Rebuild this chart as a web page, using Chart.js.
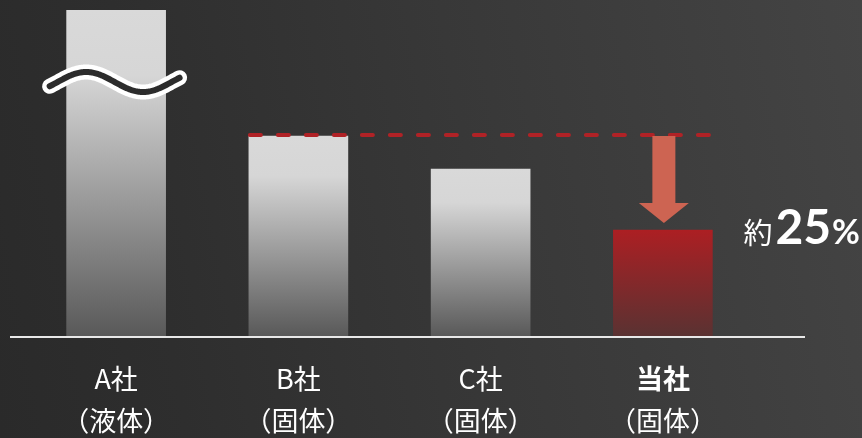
<!DOCTYPE html>
<html lang="ja">
<head>
<meta charset="utf-8">
<title>比較</title>
<script src="https://cdn.jsdelivr.net/npm/chart.js@4.4.1/dist/chart.umd.min.js"></script>
<style>
    html, body {
        margin: 0;
        padding: 0;
        width: 862px;
        height: 438px;
        overflow: hidden;
        background: linear-gradient(80deg, #2a2a2a 0%, #2e2e2e 20%, #383838 55%, #444444 100%);
    }
    canvas { display: block; }
</style>
</head>
<body>
<canvas id="compareChart" width="862" height="438"></canvas>
<script>
const companies = ['A社', 'B社', 'C社', '当社'];
const forms = ['（液体）', '（固体）', '（固体）', '（固体）'];
const values = [163, 100, 83.5, 53];
const axisMax = 163;
const breakValue = 127;      // where the A社 bar is cut
const referenceIndex = 1;    // dashed level comes from B社
const ownIndex = 3;          // 当社
const reductionText = ['約', '25', '%'];

const JP_FONT = '"Noto Sans CJK JP", "Noto Sans", sans-serif';
const NUM_FONT = 'Lato, "Open Sans", sans-serif';

function barGradient(context) {
    const chart = context.chart;
    if (!chart.chartArea) return '#cccccc';
    const y = chart.scales.y;
    const top = y.getPixelForValue(Math.min(context.raw, y.max));
    const bottom = y.getPixelForValue(0);
    const g = chart.ctx.createLinearGradient(0, top, 0, bottom);
    if (context.dataIndex === ownIndex) {
        g.addColorStop(0, '#ac1f23');
        g.addColorStop(1, '#5a3232');
    } else {
        g.addColorStop(0, '#d9d9d9');
        g.addColorStop(0.2, '#d6d6d6');
        g.addColorStop(1, '#595959');
    }
    return g;
}

// dashed level, arrow, axis break, baseline and the two-line labels
const decorations = {
    id: 'decorations',
    afterDatasetsDraw(chart) {
        const ctx = chart.ctx;
        const xScale = chart.scales.x;
        const yScale = chart.scales.y;
        const bars = chart.getDatasetMeta(0).data;
        const base = yScale.getPixelForValue(0);

        const refBar = bars[referenceIndex];
        const ownBar = bars[ownIndex];
        const levelY = yScale.getPixelForValue(values[referenceIndex]) - 1;

        ctx.save();

        // dashed reference level
        ctx.strokeStyle = '#b02226';
        ctx.lineWidth = 4;
        ctx.lineCap = 'round';
        ctx.setLineDash([11, 17]);
        ctx.beginPath();
        ctx.moveTo(refBar.x - refBar.width / 2 + 1, levelY);
        ctx.lineTo(ownBar.x + ownBar.width / 2, levelY);
        ctx.stroke();
        ctx.setLineDash([]);

        // down arrow to 当社
        const ax = ownBar.x + 1;
        const arrowTop = levelY + 1;
        const tip = ownBar.y - 7;
        const headH = 20, headW = 25, shaftW = 11.5;
        ctx.fillStyle = '#cd6452';
        ctx.beginPath();
        ctx.moveTo(ax - shaftW, arrowTop);
        ctx.lineTo(ax + shaftW, arrowTop);
        ctx.lineTo(ax + shaftW, tip - headH);
        ctx.lineTo(ax + headW, tip - headH);
        ctx.lineTo(ax, tip);
        ctx.lineTo(ax - headW, tip - headH);
        ctx.lineTo(ax - shaftW, tip - headH);
        ctx.closePath();
        ctx.fill();

        // wavy break across the first bar
        const aBar = bars[0];
        const left = aBar.x - aBar.width / 2 - 17;
        const right = aBar.x + aBar.width / 2 + 14;
        const mid = yScale.getPixelForValue(breakValue);
        const peakX = aBar.x - 30;
        const wave = () => {
            ctx.beginPath();
            for (let x = left; x <= right; x += 1) {
                const y = mid - 10 * Math.cos(2 * Math.PI * (x - peakX) / 114);
                if (x === left) ctx.moveTo(x, y); else ctx.lineTo(x, y);
            }
        };
        ctx.lineCap = 'round';
        ctx.lineJoin = 'round';
        wave();
        ctx.strokeStyle = '#ffffff';
        ctx.lineWidth = 15;
        ctx.stroke();
        wave();
        ctx.strokeStyle = '#2c2c2c';
        ctx.lineWidth = 6;
        ctx.stroke();

        // baseline
        ctx.lineCap = 'butt';
        ctx.strokeStyle = '#e8e8e8';
        ctx.lineWidth = 2;
        ctx.beginPath();
        ctx.moveTo(10, base + 1);
        ctx.lineTo(805, base + 1);
        ctx.stroke();

        // category labels
        ctx.fillStyle = '#ffffff';
        ctx.textAlign = 'center';
        ctx.textBaseline = 'middle';
        companies.forEach((name, i) => {
            const x = xScale.getPixelForValue(i);
            ctx.font = (i === ownIndex ? 'bold ' : '') + '27px ' + JP_FONT;
            ctx.fillText(name, x, base + 43);
            ctx.font = '27px ' + JP_FONT;
            ctx.fillText(forms[i], x, base + 85);
        });

        // 約25%
        ctx.textAlign = 'left';
        ctx.textBaseline = 'alphabetic';
        let tx = ownBar.x + ownBar.width / 2 + 31;
        const ty = ownBar.y + 14;
        const parts = [
            ['29px ' + JP_FONT, reductionText[0]],
            ['bold 48px ' + NUM_FONT, reductionText[1]],
            ['bold 34px ' + NUM_FONT, reductionText[2]]
        ];
        parts.forEach(([font, text], i) => {
            ctx.font = font;
            ctx.fillText(text, tx, ty);
            tx += ctx.measureText(text).width + (i === 0 ? 3 : 1);
        });

        ctx.restore();
    }
};

new Chart(document.getElementById('compareChart').getContext('2d'), {
    type: 'bar',
    data: {
        labels: companies,
        datasets: [{
            data: values,
            backgroundColor: barGradient,
            borderWidth: 0,
            barThickness: 99
        }]
    },
    options: {
        responsive: false,
        devicePixelRatio: 1,
        animation: false,
        layout: { padding: { left: 25, right: 108, top: 10, bottom: 102 } },
        plugins: {
            legend: { display: false },
            tooltip: { enabled: false }
        },
        scales: {
            x: { display: false },
            y: { display: false, min: 0, max: axisMax }
        }
    },
    plugins: [decorations]
});
</script>
</body>
</html>
